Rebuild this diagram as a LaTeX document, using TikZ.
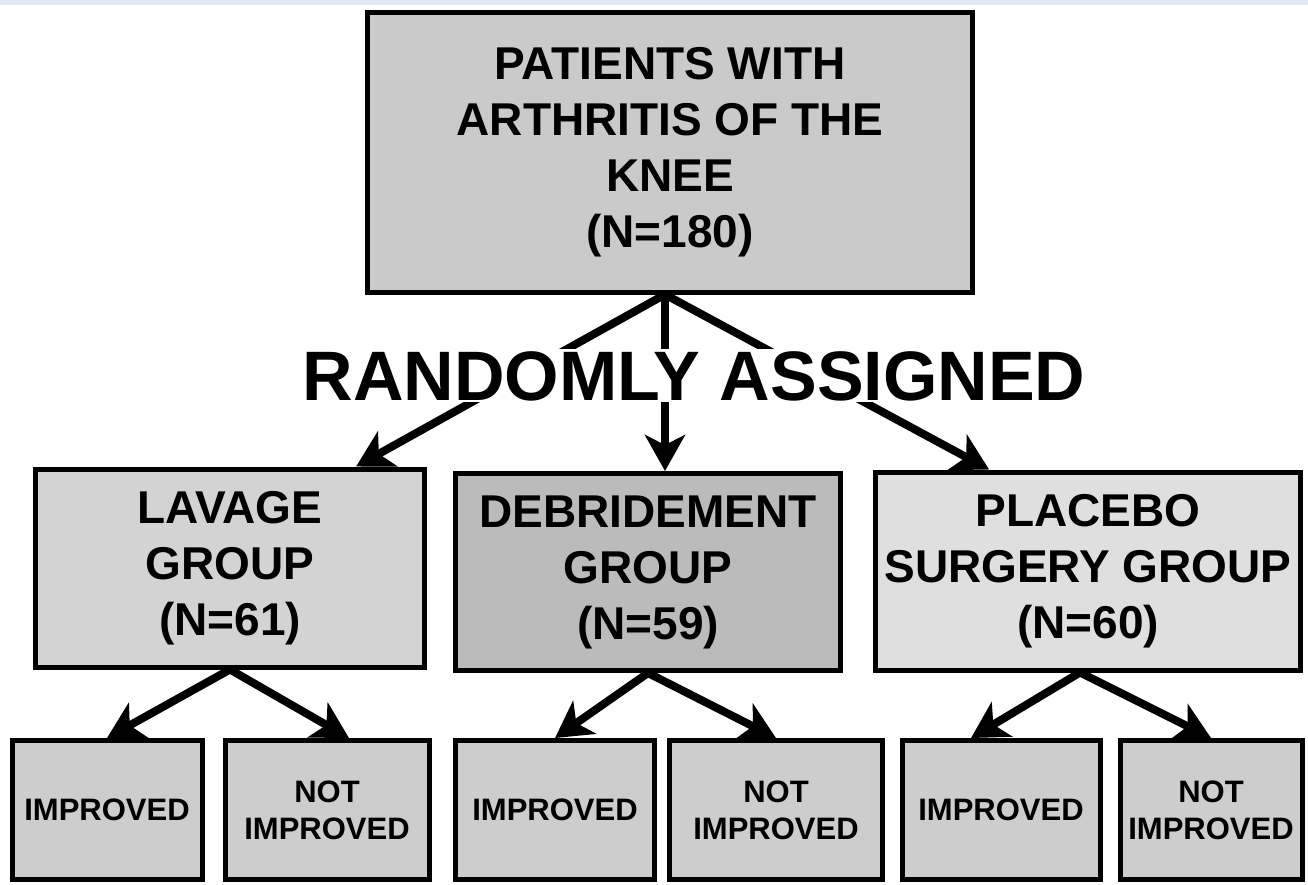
\documentclass[tikz,border=0pt]{standalone}
\usepackage{fontspec}
\setmainfont{Liberation Sans}
\usetikzlibrary{positioning,calc,arrows.meta}
\definecolor{PaleBlue}{HTML}{E1E8F3}
\definecolor{BoxGray}{HTML}{C4C4C4}

\begin{document}
\begin{tikzpicture}[
  x=1pt, y=-1pt,
  box/.style={draw, line width=5pt, align=center, inner sep=0pt, font=\bfseries\fontsize{46}{56}\selectfont},
  outbox/.style={box, fill=BoxGray!85, minimum height=139pt, font=\bfseries\fontsize{31}{37}\selectfont},
  arr/.style={-{Stealth[length=36pt,width=40pt,inset=10pt]}, line width=8pt}
]
\useasboundingbox (0,0) rectangle (1308,884);
\fill[white] (0,0) rectangle (1308,884);
\fill[PaleBlue] (0,0) rectangle (1308,5);

\node[box, fill=BoxGray!90, minimum width=605pt, minimum height=280pt] (pat) at (670,152) {PATIENTS WITH\\ARTHRITIS OF THE\\KNEE\\(N=180)};

\node[box, fill=BoxGray!75, minimum width=389pt, minimum height=198pt] (lav) at (230,568) {LAVAGE\\GROUP\\(N=61)};
\node[box, fill=BoxGray!115, minimum width=385pt, minimum height=197pt] (deb) at (648,572) {DEBRIDEMENT\\GROUP\\(N=59)};
\node[box, fill=BoxGray!55, minimum width=425pt, minimum height=198pt] (plc) at (1088,571) {PLACEBO\\SURGERY GROUP\\(N=60)};

\node[outbox, minimum width=190pt] (lim) at (107,810) {IMPROVED};
\node[outbox, minimum width=204pt, right=18pt of lim] (lni) {NOT\\IMPROVED};
\node[outbox, minimum width=199pt] (dim) at (555,810) {IMPROVED};
\node[outbox, minimum width=213pt, right=10pt of dim] (dni) {NOT\\IMPROVED};
\node[outbox, minimum width=198pt] (pim) at (1001,810) {IMPROVED};
\node[outbox, minimum width=182pt, right=15pt of pim] (pni) {NOT\\IMPROVED};

\draw[arr] ([xshift=-5pt]pat.south) -- ($(lav.north west)!0.82!(lav.north east)$);
\draw[arr] ([xshift=-5pt]pat.south) -- ([xshift=-5pt]pat.south |- deb.north);
\draw[arr] ([xshift=-5pt]pat.south) -- ($(plc.north west)!0.27!(plc.north east)$);

\draw[arr] (lav.south) -- (lim.north);
\draw[arr] (lav.south) -- ([xshift=22pt]lni.north);
\draw[arr] (deb.south) -- (dim.north);
\draw[arr] (deb.south) -- (dni.north);
\draw[arr] ([xshift=-8pt]plc.south) -- ([xshift=-30pt]pim.north);
\draw[arr] ([xshift=-8pt]plc.south) -- (pni.north);

\node[fill=white, inner xsep=0pt, inner ysep=2pt, text depth=0pt, anchor=base, font=\bfseries\fontsize{70}{70}\selectfont] (rnd) at (694,400) {RANDOMLY ASSIGNED};
\end{tikzpicture}
\end{document}
